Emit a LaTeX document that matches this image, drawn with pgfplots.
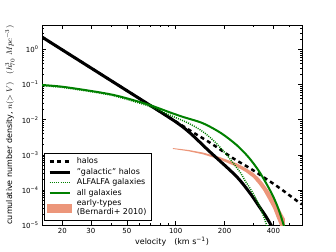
\documentclass[border=0pt]{standalone}
\usepackage{fontspec}
\setmainfont{DejaVu Sans}
\usepackage{pgfplots}
\pgfplotsset{compat=1.18}
\definecolor{mplgreen}{rgb}{0,0.5,0}
\definecolor{salm}{RGB}{236,150,122}
\pgfplotsset{
  legend image code/.code={\draw[#1] (2bp,0bp) -- (22bp,0bp);},
  salmlegend/.style={legend image code/.code={\fill[salm] (0bp,-4bp) rectangle (24bp,4bp);}},
}
\begin{document}
\begin{tikzpicture}
\begin{axis}[
  name=ax,
  scale only axis, width=260bp, height=200bp,
  xmode=log, ymode=log,
  xmin=15, xmax=600, ymin=1e-5, ymax=5,
  xtick={20,30,50,100,200,400},
  xticklabels={20,30,50,100,200,400},
  minor xtick={40,60,70,80,90,300,500},
  ytick={1e-5,1e-4,1e-3,1e-2,1e-1,1},
  yticklabels={10\textsuperscript{−5},10\textsuperscript{−4},10\textsuperscript{−3},10\textsuperscript{−2},10\textsuperscript{−1},10\textsuperscript{0}},
  minor ytick={2e-5,3e-5,4e-5,5e-5,6e-5,7e-5,8e-5,9e-5,2e-4,3e-4,4e-4,5e-4,6e-4,7e-4,8e-4,9e-4,2e-3,3e-3,4e-3,5e-3,6e-3,7e-3,8e-3,9e-3,2e-2,3e-2,4e-2,5e-2,6e-2,7e-2,8e-2,9e-2,0.2,0.3,0.4,0.5,0.6,0.7,0.8,0.9,2,3,4},
  tick label style={font=\fontsize{7}{8}\selectfont},
  label style={font=\fontsize{8}{9}\selectfont},
  xlabel={velocity\quad(km s\textsuperscript{−1})},
  ylabel={cumulative number density, $n(>V)$\quad$(h_{70}^{3}\ Mpc^{-3})$},
  xlabel style={at={(axis description cs:0.5,-0.085)}, anchor=center},
  ylabel style={at={(axis description cs:-0.123,0.5)}, anchor=center},
  major tick length=4bp, minor tick length=2bp,
  tick style={black, line width=0.5bp},
  axis line style={line width=0.6bp},
  legend cell align=left,
  legend style={at={(0.008,0.022)}, anchor=south west,
    font=\fontsize{8}{9}\selectfont, draw=black, line width=0.5bp,
    inner xsep=3bp, inner ysep=2bp, row sep=-1bp,
    cells={anchor=west, align=left},
    /tikz/every odd column/.append style={column sep=3bp}},
]
% early-types band (drawn first, underneath)
\addplot[fill=salm, draw=none, forget plot] coordinates {
 (96,1.556e-3) (120,1.374e-3) (147,1.161e-3) (187,8.61e-4) (237,5.75e-4) (270,4.2e-4) (300,3.09e-4) (325,2.2e-4) (346,1.55e-4) (372,9.8e-5) (399,5.89e-5) (420,3.9e-5) (440,2.63e-5) (470,1.51e-5)
 (470,4.17e-6) (440,9.55e-6) (420,1.6e-5) (399,2.95e-5) (372,5.4e-5) (346,9.77e-5) (325,1.45e-4) (300,2.24e-4) (270,3.25e-4) (237,4.57e-4) (187,7.33e-4) (147,1.035e-3) (120,1.265e-3) (96,1.472e-3)
} -- cycle;
% halos
\addplot[black, line width=2.5bp, dash pattern=on 4bp off 3.5bp, smooth, tension=0.5] coordinates {
 (15,2.27) (20,0.98) (30,0.300) (50,0.0675) (69,0.0263) (100,8.9e-3) (131,4.07e-3) (166,2.09e-3) (226,7.94e-4) (286,4.17e-4) (354,2.19e-4) (438,1.12e-4) (569,4.57e-5) (600,3.89e-5)
};
\addlegendentry{halos}
% galactic halos
\addplot[black, line width=3bp, smooth, tension=0.5] coordinates {
 (15,2.27) (20,0.98) (30,0.300) (50,0.0675) (69,0.0263) (100,8.7e-3) (122,4.27e-3) (162,1.23e-3) (215,3.72e-4) (248,1.91e-4) (290,7.59e-5) (330,3.16e-5) (360,1.74e-5) (390,9.3e-6) (410,6.3e-6)
};
\addlegendentry{"galactic" halos}
% ALFALFA
\addplot[mplgreen, line width=1.5bp, dash pattern=on 1bp off 1.2bp, smooth, tension=0.5] coordinates {
 (15,0.0933) (20,0.0832) (30,0.0631) (40,0.0501) (50,0.0380) (69,0.0240) (92,0.0135) (120,7.94e-3) (147,4.57e-3) (175,2.29e-3) (206,1.0e-3) (248,3.31e-4) (266,1.91e-4) (300,7.94e-5) (330,3.31e-5) (345,2.0e-5) (363,1e-5) (375,6.3e-6)
};
\addlegendentry{ALFALFA galaxies}
% all galaxies
\addplot[mplgreen, line width=2bp, smooth, tension=0.5] coordinates {
 (15,0.0977) (20,0.0871) (30,0.0661) (40,0.0525) (50,0.0407) (69,0.0263) (92,0.0162) (111,0.0120) (147,7.94e-3) (190,4.17e-3) (237,1.91e-3) (280,8.71e-4) (322,3.72e-4) (360,1.58e-4) (399,6.46e-5) (430,2.82e-5) (459,1.12e-5) (475,6.3e-6)
};
\addlegendentry{all galaxies}
\addlegendimage{salmlegend}
\addlegendentry{early-types\\(Bernardi+ 2010)}
\end{axis}
\pgfresetboundingbox
\path ([shift={(-42bp,-27bp)}]ax.south west) rectangle ([shift={(34bp,25bp)}]ax.north east);
\end{tikzpicture}
\end{document}
